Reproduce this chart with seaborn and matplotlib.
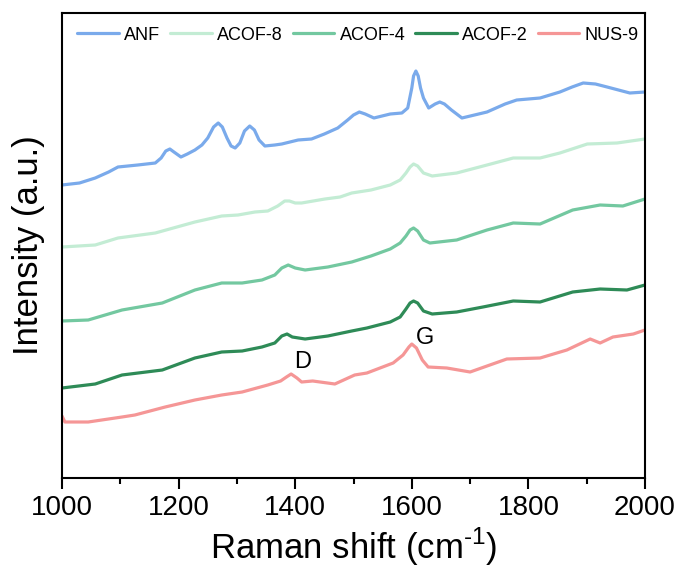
import numpy as np
import pandas as pd
import matplotlib
matplotlib.use("Agg")
import matplotlib.pyplot as plt
import seaborn as sns

# Raman spectra, vertically offset for display (arbitrary intensity units)
anf_x = [1000, 1030, 1057, 1080, 1096, 1130, 1160, 1170, 1178, 1185, 1192, 1204, 1215, 1228,
         1240, 1250, 1260, 1268, 1275, 1283, 1290, 1297, 1305, 1313, 1322, 1330, 1338, 1348,
         1365, 1377, 1405, 1428, 1450, 1473, 1490, 1500, 1510, 1520, 1535, 1563, 1583, 1593,
         1600, 1603, 1607, 1611, 1615, 1620, 1629, 1640, 1648, 1656, 1668, 1686, 1729, 1760,
         1780, 1820, 1854, 1875, 1894, 1915, 1935, 1974, 2000]
anf_y = [293, 295, 300, 306, 311, 313, 315, 320, 327, 329, 326, 321, 324, 328,
         333, 340, 351, 355, 351, 340, 332, 330, 335, 347, 352, 348, 338, 332,
         333, 334, 338, 339, 344, 350, 358, 363, 366, 364, 360, 364, 365, 370,
         390, 402, 407, 402, 390, 380, 370, 374, 376, 374, 368, 360, 366, 374,
         378, 380, 386, 391, 395, 394, 391, 385, 386]

acof8_x = [1000, 1057, 1096, 1160, 1228, 1274, 1302, 1331, 1353, 1370, 1382, 1390, 1400, 1411,
           1451, 1477, 1497, 1530, 1563, 1580, 1590, 1597, 1603, 1610, 1620, 1635, 1677, 1729,
           1774, 1820, 1854, 1901, 1952, 2000]
acof8_y = [231, 233, 240, 245, 256, 262, 263, 266, 267, 272, 277, 277, 275, 275,
           279, 281, 285, 288, 293, 298, 305, 311, 314, 312, 305, 302, 305, 313,
           320, 320, 325, 334, 335, 339]

acof4_x = [1000, 1045, 1103, 1172, 1228, 1274, 1309, 1343, 1365, 1377, 1388, 1400, 1417, 1456,
           1497, 1530, 1563, 1580, 1590, 1597, 1603, 1610, 1620, 1631, 1677, 1729, 1774, 1820,
           1876, 1923, 1962, 2000]
acof4_y = [157, 158, 168, 175, 188, 195, 195, 198, 203, 210, 213, 210, 208, 211,
           216, 222, 229, 235, 242, 248, 250, 247, 238, 235, 238, 248, 255, 254,
           268, 273, 272, 279]

acof2_x = [1000, 1057, 1103, 1172, 1228, 1274, 1309, 1343, 1365, 1377, 1386, 1395, 1417, 1456,
           1497, 1523, 1563, 1580, 1590, 1597, 1603, 1610, 1620, 1635, 1677, 1722, 1774, 1820,
           1876, 1923, 1969, 2000]
acof2_y = [90, 94, 103, 108, 120, 126, 127, 131, 135, 142, 144, 141, 139, 142,
           147, 150, 156, 161, 169, 175, 177, 175, 167, 164, 166, 171, 177, 176,
           186, 189, 188, 193]

nus9_x = [1000, 1005, 1045, 1103, 1125, 1177, 1228, 1274, 1309, 1353, 1375, 1385, 1393, 1403,
          1411, 1430, 1468, 1502, 1523, 1568, 1585, 1595, 1600, 1608, 1618, 1628, 1660, 1700,
          1763, 1820, 1866, 1906, 1923, 1945, 1980, 2000]
nus9_y = [62, 56, 56, 61, 63, 71, 78, 83, 86, 93, 97, 101, 104, 100,
          96, 97, 94, 103, 105, 115, 123, 131, 134, 130, 118, 111, 110, 106,
          119, 120, 128, 139, 135, 141, 144, 148]

samples = ["ANF", "ACOF-8", "ACOF-4", "ACOF-2", "NUS-9"]
colors = ["#7aaaeb", "#c3ecd4", "#73c8a0", "#2e8b57", "#f59696"]
series = [(anf_x, anf_y), (acof8_x, acof8_y), (acof4_x, acof4_y),
          (acof2_x, acof2_y), (nus9_x, nus9_y)]

frames = [pd.DataFrame({"shift": x, "intensity": y, "sample": name})
          for name, (x, y) in zip(samples, series)]
df = pd.concat(frames, ignore_index=True)

peak_labels = ["D", "G"]
peak_pos = [(1413, 116), (1623, 140)]

sns.set_theme(style="ticks")
plt.rcParams["font.family"] = ["Liberation Sans", "DejaVu Sans"]
plt.rcParams["axes.linewidth"] = 1.5
plt.rcParams["text.color"] = "black"
plt.rcParams["axes.labelcolor"] = "black"
plt.rcParams["xtick.color"] = "black"
plt.rcParams["ytick.color"] = "black"
plt.rcParams["mathtext.fontset"] = "custom"
plt.rcParams["mathtext.rm"] = "Liberation Sans"

fig = plt.figure(figsize=(6.83, 5.72), dpi=100)
ax = fig.add_axes([62 / 683, 1 - 478 / 572, (645 - 62) / 683, (478 - 13) / 572])

sns.lineplot(data=df, x="shift", y="intensity", hue="sample", hue_order=samples,
             palette=colors, estimator=None, sort=True, linewidth=2.3, ax=ax,
             legend=True)

for lab, (px, py) in zip(peak_labels, peak_pos):
    ax.text(px, py, lab, fontsize=17, ha="center", va="center", color="black")

ax.set_xlim(1000, 2000)
ax.set_ylim(0, 465)
ax.set_xticks([1000, 1200, 1400, 1600, 1800, 2000])
ax.set_xticks(np.arange(1100, 2000, 200), minor=True)
ax.set_yticks([])
ax.tick_params(axis="x", which="major", direction="out", length=8, width=1.5,
               labelsize=20, pad=4, colors="black")
ax.tick_params(axis="x", which="minor", direction="out", length=4, width=1.5)
for sp in ax.spines.values():
    sp.set_color("black")
    sp.set_linewidth(1.5)

ax.set_xlabel(r"Raman shift (cm$^{\text{-1}}$)", fontsize=25, labelpad=4)
ax.set_ylabel("Intensity (a.u.)", fontsize=25, labelpad=12)

handles, labels = ax.get_legend_handles_labels()
ax.legend(handles, labels, ncol=5, frameon=False, fontsize=13,
          loc="center left", bbox_to_anchor=(77 / 683, 1 - 35 / 572),
          bbox_transform=fig.transFigure, borderpad=0, borderaxespad=0,
          handlelength=2.3, handletextpad=0.3, columnspacing=0.55)

fig.savefig("out.png", dpi=100)
